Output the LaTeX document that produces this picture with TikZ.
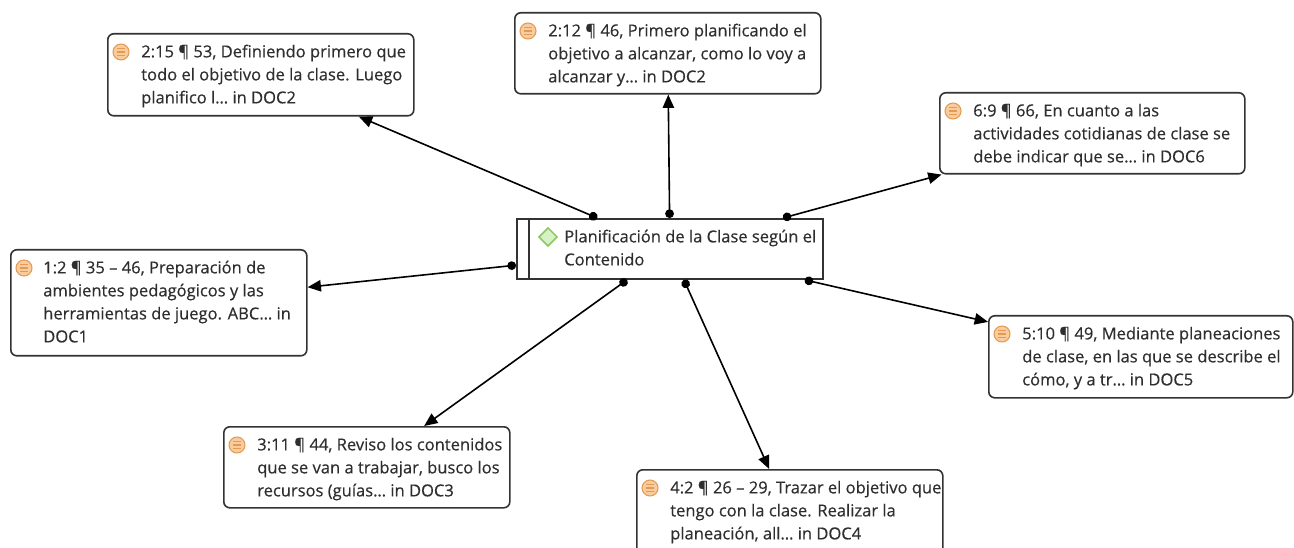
\documentclass[tikz,border=0pt]{standalone}
\usepackage{fontspec}
\setmainfont{Open Sans}[FakeBold=0.35]
\usetikzlibrary{arrows.meta,shapes.geometric}
\definecolor{txt}{HTML}{2E2E2E}
\definecolor{bord}{HTML}{333333}
\definecolor{qfill}{HTML}{F8CC9C}
\definecolor{qline}{HTML}{E39A55}
\definecolor{gfill}{HTML}{D8F0C6}
\definecolor{gline}{HTML}{8CC862}
\begin{document}
\begin{tikzpicture}[x=0.75pt,y=-0.75pt,
  qbox/.style 2 args={draw=bord, line width=1.2pt, rounded corners=4.5pt, anchor=north west, inner sep=0pt, fill=white,
    minimum width={#1*0.75pt}, minimum height={#2*0.75pt}},
  cbox/.style 2 args={draw=bord, line width=1.4pt, anchor=north west, inner sep=0pt, fill=white,
    minimum width={#1*0.75pt}, minimum height={#2*0.75pt}},
  qtext/.style={anchor=north west, inner sep=0pt, align=left, text=txt, font=\fontsize{12.4}{17.25}\selectfont},
  qicon/.style={circle, draw=qline, fill=qfill, line width=0.8pt, minimum size=12pt, inner sep=0pt,
    path picture={
      \draw[qline, line width=0.8pt] ([shift={(-2.8pt,2.4pt)}]path picture bounding box.center) -- ++(5.6pt,0pt);
      \draw[qline, line width=0.8pt] ([shift={(-3.2pt,0pt)}]path picture bounding box.center) -- ++(6.4pt,0pt);
      \draw[qline, line width=0.8pt] ([shift={(-2.8pt,-2.4pt)}]path picture bounding box.center) -- ++(5.6pt,0pt);
    }},
  gicon/.style={diamond, draw=gline, fill=gfill, line width=1.1pt, minimum width=14pt, minimum height=14pt, inner sep=0pt},
  conn/.style={draw=black, line width=1.2pt, {Circle[length=6.5pt]}-{Triangle[length=10pt,width=8.5pt]}}
]
\useasboundingbox[fill=white] (0,0) rectangle (1294,548);

% center node
\node[cbox={306}{60}] (c) at (516,218) {};
\draw[draw=bord, line width=1.2pt] ([xshift=9.75pt]c.north west) -- ([xshift=9.75pt]c.south west);
\node[gicon] (g) at (548,237) {};
\node[qtext] (ct) at (564,226) {\strut Planificación de la Clase según el\\Contenido};

% quotation boxes
\node[qbox={306}{82}] (b1) at (107,33) {};
\node[qicon] (i1) at (121,52) {};
\node[qtext] (t1) at (141,41) {\strut 2:15 ¶ 53, Definiendo primero que\\todo el objetivo de la clase. Luego\\planifico l… in DOC2};

\node[qbox={306}{81}] (b2) at (514,12) {};
\node[qicon] (i2) at (528,31) {};
\node[qtext] (t2) at (548,20) {\strut 2:12 ¶ 46, Primero planificando el\\objetivo a alcanzar, como lo voy a\\alcanzar y… in DOC2};

\node[qbox={305}{81}] (b3) at (939,92) {};
\node[qicon] (i3) at (953,111) {};
\node[qtext] (t3) at (973,100) {\strut 6:9 ¶ 66, En cuanto a las\\actividades cotidianas de clase se\\debe indicar que se… in DOC6};

\node[qbox={296}{106}] (b4) at (10,249) {};
\node[qicon] (i4) at (24,268) {};
\node[qtext] (t4) at (43,257) {\strut 1:2 ¶ 35 – 46, Preparación de\\ambientes pedagógicos y las\\herramientas de juego. ABC… in\\DOC1};

\node[qbox={304}{82}] (b5) at (988,315) {};
\node[qicon] (i5) at (1002,334) {};
\node[qtext] (t5) at (1022,323) {\strut 5:10 ¶ 49, Mediante planeaciones\\de clase, en las que se describe el\\cómo, y a tr… in DOC5};

\node[qbox={286}{81}] (b6) at (223,426) {};
\node[qicon] (i6) at (237,445) {};
\node[qtext] (t6) at (257,434) {\strut 3:11 ¶ 44, Reviso los contenidos\\que se van a trabajar, busco los\\recursos (guías… in DOC3};

\node[qbox={306}{90}] (b7) at (636,469) {};
\node[qicon] (i7) at (650,488) {};
\node[qtext] (t7) at (670,477) {\strut 4:2 ¶ 26 – 29, Trazar el objetivo que\\tengo con la clase. Realizar la\\planeación, all… in DOC4};

% connectors
\draw[conn] (c) -- (b1);
\draw[conn] (c) -- (b2);
\draw[conn] (c) -- (b3);
\draw[conn] (c) -- (b4);
\draw[conn] (c) -- (b5);
\draw[conn] (c) -- (b6);
\draw[conn] (c) -- (b7);
\end{tikzpicture}
\end{document}
